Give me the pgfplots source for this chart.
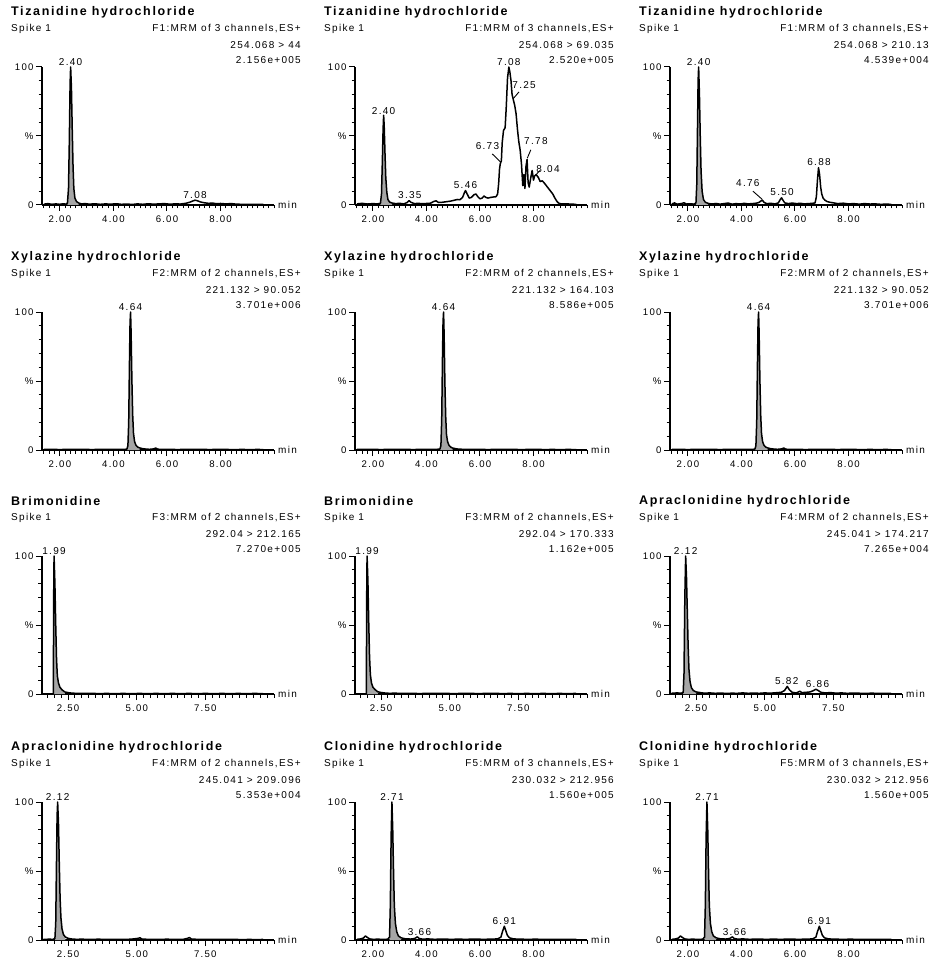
\documentclass[border=0pt]{standalone}
\usepackage{fontspec}
\setmainfont{Liberation Sans}
\newfontfamily\lsp[LetterSpace=13]{Liberation Sans}
\usepackage{pgfplots}
\pgfplotsset{compat=1.18}

\newcommand{\ttlfont}{\lsp\bfseries\fontsize{12.5}{14}\selectfont}
\newcommand{\smfont}{\lsp\fontsize{10}{12}\selectfont}
\newcommand{\tkfont}{\lsp\fontsize{9.6}{11}\selectfont}

% header block of one chromatogram
\newcommand{\hdr}[4]{%
  \node[anchor=west, font=\ttlfont, inner sep=0pt] at (rel axis cs:0,1) [xshift=-31pt, yshift=55pt] {#1};
  \node[anchor=west, font=\smfont, inner sep=0pt] at (rel axis cs:0,1) [xshift=-31pt, yshift=38pt] {Spike 1};
  \node[anchor=east, font=\smfont, inner sep=0pt] at (rel axis cs:1,1) [xshift=27pt, yshift=38pt] {#2};
  \node[anchor=east, font=\smfont, inner sep=0pt] at (rel axis cs:1,1) [xshift=27pt, yshift=22pt] {#3};
  \node[anchor=east, font=\smfont, inner sep=0pt] at (rel axis cs:1,1) [xshift=27pt, yshift=7pt] {#4};
  \node[anchor=west, font=\smfont, inner sep=0pt] at (rel axis cs:1,0) [xshift=4pt] {min};
}
\newcommand{\pk}[3]{\node[anchor=south, font=\smfont, inner sep=1pt] at (axis cs:#1,#2) {#3};}
\newcommand{\pkc}[3]{\node[anchor=center, font=\smfont, inner sep=0pt] at (axis cs:#1,#2) {#3};}

\tikzset{lead/.style={line width=0.9pt}}
\pgfplotsset{
  chrom/.style={
    scale only axis, width=232pt, height=138pt,
    xmin=1.33, xmax=10, ymin=0, ymax=100,
    axis x line=bottom, axis y line=left,
    axis line style={-, line width=1.3pt},
    xtick={2,4,6,8}, xticklabels={2.00,4.00,6.00,8.00},
    minor xtick={1.4,1.6,...,9.9},
    ytick={0,50,100}, yticklabels={0,\%,100},
    minor ytick={10,20,...,90},
    tick align=outside, major tick length=6pt, minor tick length=3.5pt,
    every tick/.style={black, line width=1pt},
    xticklabel style={font=\tkfont, yshift=-1pt},
    yticklabel style={font=\tkfont, xshift=1pt},
    clip=false,
  },
  chromB/.style={chrom, xmin=1.55,
    xtick={2.5,5,7.5}, xticklabels={2.50,5.00,7.50},
    minor xtick={1.75,2.0,...,9.9}},
  trace/.style={black, line width=1.5pt, line join=round},
  area/.style={fill=black!35, draw=none},
}

\begin{document}
\begin{tikzpicture}
\useasboundingbox (0pt,0pt) rectangle (936pt,-965pt);

% ---------- row 1 ----------
\begin{axis}[chrom, at={(42pt,-205pt)}, anchor=south west]
\hdr{Tizanidine hydrochloride}{F1:MRM of 3 channels,ES+}{254.068 > 44}{2.156e+005}
\addplot[area] coordinates {(2.28,1.2)(2.32,12)(2.35,45)(2.38,88)(2.40,100)(2.43,85)(2.46,55)(2.49,28)(2.52,12)(2.56,5)(2.62,2.5)(2.70,1.5)} \closedcycle;
\addplot[trace] coordinates {(1.40,0.6)(1.55,1.0)(1.70,0.5)(1.85,0.8)(2.00,0.5)(2.12,0.9)(2.22,0.6)(2.28,1.2)(2.32,12)(2.35,45)(2.38,88)(2.40,100)(2.43,85)(2.46,55)(2.49,28)(2.52,12)(2.56,5)(2.62,2.5)(2.70,1.5)(2.80,0.8)(2.95,1.0)(3.10,0.6)(3.30,0.9)(3.50,0.5)(3.70,0.8)(3.90,0.6)(4.10,0.9)(4.30,0.5)(4.50,0.7)(4.70,0.4)(4.90,0.8)(5.10,0.5)(5.30,0.9)(5.50,0.6)(5.70,0.8)(5.90,1.0)(6.10,0.6)(6.30,0.8)(6.50,0.7)(6.70,1.2)(6.85,2.0)(6.95,2.8)(7.05,3.5)(7.15,3.0)(7.25,2.2)(7.40,1.6)(7.55,1.2)(7.70,1.4)(7.85,0.9)(8.00,1.1)(8.20,0.8)(8.40,1.0)(8.60,0.6)(8.80,0.5)(9.00,0.4)(9.30,0.5)(9.60,0.4)};
\pk{2.40}{100}{2.40}
\pk{7.05}{3.8}{7.08}
\end{axis}

\begin{axis}[chrom, at={(355pt,-205pt)}, anchor=south west]
\hdr{Tizanidine hydrochloride}{F1:MRM of 3 channels,ES+}{254.068 > 69.035}{2.520e+005}
\addplot[area] coordinates {(2.28,1.2)(2.32,8)(2.35,30)(2.38,55)(2.40,65)(2.42,58)(2.45,38)(2.48,20)(2.52,9)(2.56,4)(2.62,2.2)(2.72,1.4)} \closedcycle;
\addplot[trace] coordinates {(1.40,0.8)(1.60,1.2)(1.80,0.7)(2.00,1.0)(2.15,0.8)(2.28,1.2)(2.32,8)(2.35,30)(2.38,55)(2.40,65)(2.42,58)(2.45,38)(2.48,20)(2.52,9)(2.56,4)(2.62,2.2)(2.72,1.4)(2.85,1.0)(3.00,1.2)(3.15,0.8)(3.28,1.8)(3.35,3.2)(3.42,2.0)(3.55,1.0)(3.70,1.2)(3.85,0.9)(4.00,1.1)(4.15,1.3)(4.28,2.6)(4.36,3.0)(4.45,1.8)(4.60,2.0)(4.75,2.4)(4.90,2.8)(5.05,3.5)(5.15,4.0)(5.25,3.8)(5.35,5.5)(5.42,9)(5.46,10.5)(5.52,8)(5.60,5)(5.68,5.5)(5.78,7.5)(5.85,8)(5.92,6)(6.00,4.5)(6.08,5)(6.15,6.5)(6.22,5.5)(6.30,5)(6.40,5.5)(6.50,5.8)(6.60,6)(6.66,8)(6.70,16)(6.73,26)(6.76,30)(6.80,32)(6.83,45)(6.88,54)(6.94,56)(6.98,70)(7.03,92)(7.08,100)(7.12,96)(7.16,90)(7.20,80)(7.25,76)(7.30,72)(7.35,66)(7.40,55)(7.45,46)(7.50,40)(7.55,30)(7.60,14)(7.64,22)(7.68,12)(7.72,28)(7.76,33)(7.80,16)(7.84,13)(7.90,20)(7.95,25)(8.00,18)(8.04,21)(8.10,22)(8.18,20)(8.25,17)(8.33,17.5)(8.40,16)(8.48,14)(8.56,12)(8.64,10)(8.72,8)(8.80,5)(8.88,2.5)(8.95,1.2)(9.05,0.8)(9.20,0.9)(9.40,0.6)(9.60,0.5)};
\pk{2.40}{65}{2.40}
\pk{3.38}{3.5}{3.35}
\pk{5.46}{11}{5.46}
\pk{7.08}{100}{7.08}
\pkc{7.65}{87}{7.25}
\draw[lead] (axis cs:7.46,82) -- (axis cs:7.24,77);
\pkc{6.28}{43}{6.73}
\draw[lead] (axis cs:6.46,37) -- (axis cs:6.78,31);
\pkc{8.09}{46}{7.78}
\draw[lead] (axis cs:7.90,40) -- (axis cs:7.77,34);
\pkc{8.54}{26}{8.04}
\draw[lead] (axis cs:8.24,25) -- (axis cs:8.12,22.5);
\end{axis}

\begin{axis}[chrom, at={(670pt,-205pt)}, anchor=south west]
\hdr{Tizanidine hydrochloride}{F1:MRM of 3 channels,ES+}{254.068 > 210.13}{4.539e+004}
\addplot[area] coordinates {(2.30,1.5)(2.33,15)(2.36,60)(2.38,90)(2.40,100)(2.43,80)(2.46,50)(2.49,25)(2.53,10)(2.58,4)(2.65,2)(2.75,1.2)} \closedcycle;
\addplot[trace] coordinates {(1.40,0.8)(1.50,1.5)(1.60,0.6)(1.75,1.0)(1.85,1.6)(1.95,0.7)(2.10,0.9)(2.22,0.6)(2.30,1.5)(2.33,15)(2.36,60)(2.38,90)(2.40,100)(2.43,80)(2.46,50)(2.49,25)(2.53,10)(2.58,4)(2.65,2)(2.75,1.2)(2.90,0.7)(3.05,1.1)(3.20,0.6)(3.35,1.0)(3.50,1.4)(3.65,0.6)(3.80,1.0)(3.95,0.7)(4.10,1.2)(4.25,0.8)(4.40,1.0)(4.55,1.3)(4.65,1.8)(4.72,2.8)(4.78,3.5)(4.85,1.8)(4.95,1.0)(5.10,1.2)(5.25,0.8)(5.38,1.5)(5.45,4)(5.50,5.2)(5.55,3.5)(5.62,1.5)(5.75,1.0)(5.90,1.4)(6.05,1.0)(6.20,1.2)(6.35,0.8)(6.50,1.0)(6.65,1.2)(6.75,1.5)(6.80,6)(6.84,18)(6.88,27)(6.92,22)(6.96,13)(7.00,8)(7.05,5)(7.12,3.5)(7.20,2.5)(7.30,2)(7.45,1.5)(7.60,1.0)(7.80,1.3)(8.00,0.8)(8.20,1.0)(8.40,0.6)(8.60,1.0)(8.80,0.7)(9.00,0.8)(9.20,0.5)(9.40,0.6)(9.60,0.5)};
\pk{2.40}{100}{2.40}
\pkc{4.24}{15.7}{4.76}
\draw[lead] (axis cs:4.43,10) -- (axis cs:4.78,4);
\pk{5.52}{5.8}{5.50}
\pk{6.90}{27.5}{6.88}
\end{axis}

% ---------- row 2 ----------
\begin{axis}[chrom, at={(42pt,-450pt)}, anchor=south west]
\hdr{Xylazine hydrochloride}{F2:MRM of 2 channels,ES+}{221.132 > 90.052}{3.701e+006}
\addplot[area] coordinates {(4.50,0.6)(4.54,3)(4.57,20)(4.60,65)(4.62,92)(4.64,100)(4.66,85)(4.69,50)(4.72,25)(4.75,12)(4.79,6)(4.84,3.5)(4.90,2.2)(4.98,1.5)} \closedcycle;
\addplot[trace] coordinates {(1.40,0.4)(1.70,0.5)(2.00,0.3)(2.30,0.5)(2.60,0.4)(2.90,0.5)(3.20,0.3)(3.50,0.5)(3.80,0.4)(4.10,0.5)(4.35,0.4)(4.50,0.6)(4.54,3)(4.57,20)(4.60,65)(4.62,92)(4.64,100)(4.66,85)(4.69,50)(4.72,25)(4.75,12)(4.79,6)(4.84,3.5)(4.90,2.2)(4.98,1.5)(5.08,1.0)(5.20,0.7)(5.35,0.5)(5.50,0.8)(5.58,1.4)(5.66,0.6)(5.80,0.4)(6.10,0.5)(6.40,0.3)(6.70,0.5)(7.00,0.4)(7.30,0.5)(7.60,0.3)(7.90,0.5)(8.20,0.4)(8.50,0.3)(8.80,0.4)(9.10,0.3)(9.40,0.4)(9.60,0.3)};
\pk{4.64}{100}{4.64}
\end{axis}

\begin{axis}[chrom, at={(355pt,-450pt)}, anchor=south west]
\hdr{Xylazine hydrochloride}{F2:MRM of 2 channels,ES+}{221.132 > 164.103}{8.586e+005}
\addplot[area] coordinates {(4.50,0.6)(4.54,3)(4.57,22)(4.60,68)(4.62,93)(4.64,100)(4.66,84)(4.69,48)(4.72,24)(4.75,11)(4.79,6)(4.84,3.5)(4.90,2.2)(4.98,1.4)} \closedcycle;
\addplot[trace] coordinates {(1.40,0.5)(1.70,0.4)(2.00,0.5)(2.30,0.3)(2.60,0.5)(2.90,0.4)(3.20,0.5)(3.50,0.3)(3.80,0.5)(4.10,0.4)(4.35,0.5)(4.50,0.6)(4.54,3)(4.57,22)(4.60,68)(4.62,93)(4.64,100)(4.66,84)(4.69,48)(4.72,24)(4.75,11)(4.79,6)(4.84,3.5)(4.90,2.2)(4.98,1.4)(5.08,1.0)(5.20,0.6)(5.40,0.5)(5.70,0.4)(6.00,0.5)(6.30,0.3)(6.60,0.5)(6.90,0.4)(7.20,0.5)(7.50,0.3)(7.80,0.4)(8.10,0.5)(8.40,0.3)(8.70,0.4)(9.00,0.3)(9.30,0.4)(9.60,0.3)};
\pk{4.64}{100}{4.64}
\end{axis}

\begin{axis}[chrom, at={(670pt,-450pt)}, anchor=south west]
\hdr{Xylazine hydrochloride}{F2:MRM of 2 channels,ES+}{221.132 > 90.052}{3.701e+006}
\addplot[area] coordinates {(4.50,0.6)(4.54,3)(4.57,20)(4.60,65)(4.62,92)(4.64,100)(4.66,85)(4.69,50)(4.72,25)(4.75,12)(4.79,6)(4.84,3.5)(4.90,2.2)(4.98,1.5)} \closedcycle;
\addplot[trace] coordinates {(1.40,0.4)(1.70,0.5)(2.00,0.3)(2.30,0.5)(2.60,0.4)(2.90,0.5)(3.20,0.3)(3.50,0.5)(3.80,0.4)(4.10,0.5)(4.35,0.4)(4.50,0.6)(4.54,3)(4.57,20)(4.60,65)(4.62,92)(4.64,100)(4.66,85)(4.69,50)(4.72,25)(4.75,12)(4.79,6)(4.84,3.5)(4.90,2.2)(4.98,1.5)(5.08,1.0)(5.20,0.7)(5.35,0.5)(5.50,0.8)(5.58,1.4)(5.66,0.6)(5.80,0.4)(6.10,0.5)(6.40,0.3)(6.70,0.5)(7.00,0.4)(7.30,0.5)(7.60,0.3)(7.90,0.5)(8.20,0.4)(8.50,0.3)(8.80,0.4)(9.10,0.3)(9.40,0.4)(9.60,0.3)};
\pk{4.64}{100}{4.64}
\end{axis}

% ---------- row 3 ----------
\begin{axis}[chromB, at={(42pt,-694pt)}, anchor=south west]
\hdr{Brimonidine}{F3:MRM of 2 channels,ES+}{292.04 > 212.165}{7.270e+005}
\addplot[area] coordinates {(1.96,0)(1.97,40)(1.98,85)(1.99,100)(2.02,80)(2.05,50)(2.08,25)(2.11,13)(2.15,8)(2.20,5)(2.28,3)(2.38,1.5)} \closedcycle;
\addplot[trace] coordinates {(1.96,0)(1.97,40)(1.98,85)(1.99,100)(2.02,80)(2.05,50)(2.08,25)(2.11,13)(2.15,8)(2.20,5)(2.28,3)(2.38,1.5)(2.50,1.0)(2.65,0.6)(2.80,0.5)(3.00,0.4)(3.30,0.5)(3.60,0.3)(3.90,0.4)(4.20,0.3)(4.50,0.4)(4.80,0.3)(5.10,0.4)(5.40,0.3)(5.70,0.4)(6.00,0.3)(6.30,0.4)(6.60,0.3)(6.90,0.4)(7.20,0.3)(7.50,0.4)(7.80,0.3)(8.10,0.4)(8.40,0.3)(8.70,0.4)(9.00,0.3)(9.30,0.4)(9.60,0.3)};
\pk{1.99}{100}{1.99}
\end{axis}

\begin{axis}[chromB, at={(355pt,-694pt)}, anchor=south west]
\hdr{Brimonidine}{F3:MRM of 2 channels,ES+}{292.04 > 170.333}{1.162e+005}
\addplot[area] coordinates {(1.96,0)(1.97,40)(1.98,85)(1.99,100)(2.02,82)(2.05,52)(2.08,27)(2.11,14)(2.15,8)(2.20,5)(2.28,3.2)(2.38,1.6)} \closedcycle;
\addplot[trace] coordinates {(1.96,0)(1.97,40)(1.98,85)(1.99,100)(2.02,82)(2.05,52)(2.08,27)(2.11,14)(2.15,8)(2.20,5)(2.28,3.2)(2.38,1.6)(2.50,1.1)(2.65,0.7)(2.80,0.5)(3.00,0.6)(3.30,0.4)(3.60,0.5)(3.90,0.3)(4.20,0.5)(4.50,0.4)(4.80,0.5)(5.10,0.3)(5.40,0.4)(5.70,0.5)(6.00,0.3)(6.30,0.4)(6.60,0.5)(6.90,0.3)(7.20,0.4)(7.50,0.3)(7.80,0.4)(8.10,0.3)(8.40,0.4)(8.70,0.3)(9.00,0.4)(9.30,0.3)(9.60,0.4)};
\pk{1.99}{100}{1.99}
\end{axis}

\begin{axis}[chromB, at={(670pt,-694pt)}, anchor=south west]
\hdr{Apraclonidine hydrochloride}{F4:MRM of 2 channels,ES+}{245.041 > 174.217}{7.265e+004}
\addplot[area] coordinates {(2.03,1)(2.06,15)(2.09,70)(2.12,100)(2.15,85)(2.18,60)(2.21,35)(2.24,18)(2.28,9)(2.33,4.5)(2.40,2.5)(2.50,1.5)} \closedcycle;
\addplot[trace] coordinates {(1.60,0.5)(1.80,0.8)(1.95,0.6)(2.03,1)(2.06,15)(2.09,70)(2.12,100)(2.15,85)(2.18,60)(2.21,35)(2.24,18)(2.28,9)(2.33,4.5)(2.40,2.5)(2.50,1.5)(2.65,1.0)(2.80,0.6)(3.00,0.8)(3.20,0.5)(3.40,0.7)(3.60,0.4)(3.80,0.6)(4.00,0.5)(4.20,0.8)(4.40,0.5)(4.60,0.7)(4.80,0.5)(5.00,0.8)(5.20,0.6)(5.40,0.9)(5.60,1.2)(5.72,2.5)(5.82,5.5)(5.90,3)(6.00,1.2)(6.15,0.8)(6.28,2)(6.35,1.0)(6.50,1.2)(6.65,1.5)(6.78,2.5)(6.86,3.5)(6.95,2.5)(7.05,1.2)(7.20,0.8)(7.40,1.0)(7.60,0.6)(7.80,0.8)(8.00,0.5)(8.30,0.7)(8.60,0.4)(8.90,0.6)(9.20,0.4)(9.60,0.5)};
\pk{2.12}{100}{2.12}
\pk{5.80}{5.8}{5.82}
\pk{6.92}{3.8}{6.86}
\end{axis}

% ---------- row 4 ----------
\begin{axis}[chromB, at={(42pt,-940pt)}, anchor=south west]
\hdr{Apraclonidine hydrochloride}{F4:MRM of 2 channels,ES+}{245.041 > 209.096}{5.353e+004}
\addplot[area] coordinates {(2.02,1)(2.05,12)(2.08,60)(2.10,90)(2.12,100)(2.15,85)(2.18,55)(2.21,30)(2.24,16)(2.28,8)(2.33,4)(2.40,2.2)} \closedcycle;
\addplot[trace] coordinates {(1.60,0.4)(1.80,0.6)(1.95,0.5)(2.02,1)(2.05,12)(2.08,60)(2.10,90)(2.12,100)(2.15,85)(2.18,55)(2.21,30)(2.24,16)(2.28,8)(2.33,4)(2.40,2.2)(2.50,1.2)(2.65,0.7)(2.80,0.5)(3.00,0.6)(3.30,0.4)(3.60,0.6)(3.90,0.4)(4.20,0.5)(4.50,0.4)(4.80,0.6)(5.05,1.2)(5.12,1.6)(5.20,0.6)(5.50,0.5)(5.80,0.4)(6.10,0.6)(6.40,0.4)(6.70,0.5)(6.85,1.2)(6.92,1.8)(7.00,0.6)(7.30,0.5)(7.60,0.4)(7.90,0.5)(8.20,0.4)(8.50,0.5)(8.80,0.3)(9.10,0.4)(9.40,0.3)(9.60,0.4)};
\pk{2.12}{100}{2.12}
\end{axis}

\begin{axis}[chrom, at={(355pt,-940pt)}, anchor=south west]
\hdr{Clonidine hydrochloride}{F5:MRM of 3 channels,ES+}{230.032 > 212.956}{1.560e+005}
\addplot[area] coordinates {(2.62,2)(2.65,25)(2.68,75)(2.71,100)(2.74,80)(2.77,50)(2.80,25)(2.84,12)(2.89,6)(2.95,3)(3.05,1.6)} \closedcycle;
\addplot[trace] coordinates {(1.40,0.5)(1.55,0.8)(1.65,1.5)(1.72,3)(1.78,2)(1.88,0.8)(2.00,0.5)(2.20,0.6)(2.40,0.4)(2.55,0.6)(2.62,2)(2.65,25)(2.68,75)(2.71,100)(2.74,80)(2.77,50)(2.80,25)(2.84,12)(2.89,6)(2.95,3)(3.05,1.6)(3.20,0.9)(3.40,0.7)(3.55,1.0)(3.62,1.8)(3.66,2.3)(3.72,1.2)(3.85,0.6)(4.05,0.8)(4.30,0.5)(4.60,0.7)(4.90,0.5)(5.20,0.6)(5.50,0.5)(5.80,0.7)(6.10,0.5)(6.40,0.6)(6.65,0.8)(6.78,2)(6.84,6)(6.91,10)(6.96,7)(7.02,3.5)(7.10,1.6)(7.25,0.8)(7.50,0.6)(7.80,0.5)(8.10,0.6)(8.40,0.4)(8.70,0.5)(9.00,0.4)(9.30,0.5)(9.60,0.4)};
\pk{2.71}{100}{2.71}
\pk{3.74}{2.4}{3.66}
\pk{6.91}{10.5}{6.91}
\end{axis}

\begin{axis}[chrom, at={(670pt,-940pt)}, anchor=south west]
\hdr{Clonidine hydrochloride}{F5:MRM of 3 channels,ES+}{230.032 > 212.956}{1.560e+005}
\addplot[area] coordinates {(2.62,2)(2.65,25)(2.68,75)(2.71,100)(2.74,80)(2.77,50)(2.80,25)(2.84,12)(2.89,6)(2.95,3)(3.05,1.6)} \closedcycle;
\addplot[trace] coordinates {(1.40,0.5)(1.55,0.8)(1.65,1.5)(1.72,3)(1.78,2)(1.88,0.8)(2.00,0.5)(2.20,0.6)(2.40,0.4)(2.55,0.6)(2.62,2)(2.65,25)(2.68,75)(2.71,100)(2.74,80)(2.77,50)(2.80,25)(2.84,12)(2.89,6)(2.95,3)(3.05,1.6)(3.20,0.9)(3.40,0.7)(3.55,1.0)(3.62,1.8)(3.66,2.3)(3.72,1.2)(3.85,0.6)(4.05,0.8)(4.30,0.5)(4.60,0.7)(4.90,0.5)(5.20,0.6)(5.50,0.5)(5.80,0.7)(6.10,0.5)(6.40,0.6)(6.65,0.8)(6.78,2)(6.84,6)(6.91,10)(6.96,7)(7.02,3.5)(7.10,1.6)(7.25,0.8)(7.50,0.6)(7.80,0.5)(8.10,0.6)(8.40,0.4)(8.70,0.5)(9.00,0.4)(9.30,0.5)(9.60,0.4)};
\pk{2.71}{100}{2.71}
\pk{3.74}{2.4}{3.66}
\pk{6.91}{10.5}{6.91}
\end{axis}
\end{tikzpicture}
\end{document}
